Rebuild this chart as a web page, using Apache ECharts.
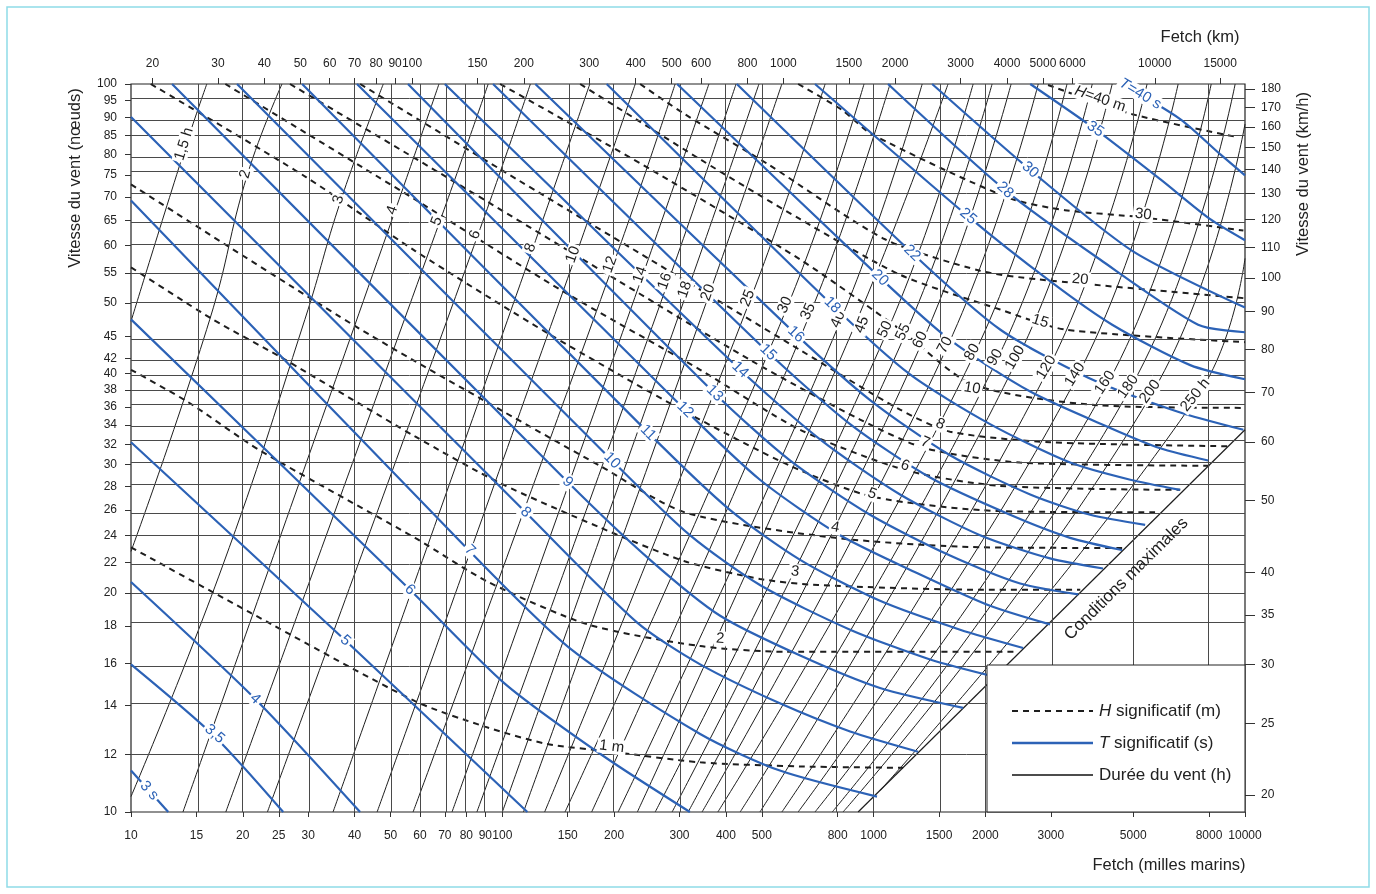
<!DOCTYPE html>
<html lang="fr">
<head>
<meta charset="utf-8">
<title>Abaque de prévision de la houle</title>
<script src="https://cdn.jsdelivr.net/npm/echarts@6.0.0/dist/echarts.min.js"></script>
<style>
  html, body { margin: 0; padding: 0; background: #fff; }
  #chart { width: 1376px; height: 894px; }
</style>
</head>
<body>
<div id="chart"></div>
<script>
// ---- axes (fetch in nautical miles, wind in knots) ----
const fetchNmTicks = [10, 15, 20, 25, 30, 40, 50, 60, 70, 80, 90, 100, 150, 200, 300, 400, 500, 800, 1000, 1500, 2000, 3000, 5000, 8000, 10000];
const fetchKmTicks = [20, 30, 40, 50, 60, 70, 80, 90, 100, 150, 200, 300, 400, 500, 600, 800, 1000, 1500, 2000, 3000, 4000, 5000, 6000, 10000, 15000];
const windKnTicks = [10, 12, 14, 16, 18, 20, 22, 24, 26, 28, 30, 32, 34, 36, 38, 40, 42, 45, 50, 55, 60, 65, 70, 75, 80, 85, 90, 95, 100];
const windKmhTicks = [20, 25, 30, 35, 40, 50, 60, 70, 80, 90, 100, 110, 120, 130, 140, 150, 160, 170, 180];
// the printed km and km/h scales sit slightly off the exact 1.852 ratio
const kmRange = [17.5, 17500];
const kmhRange = [18.97, 182.8];

// ---- wind duration lines (h): [fetch nm, wind kn] ----
const durationNames = ['1,5 h', '2', '3', '4', '5', '6', '8', '10', '12', '14', '16', '18', '20', '25', '30', '35', '40', '45', '50', '55', '60', '70', '80', '90', '100', '120', '140', '160', '180', '200', '250 h'];
const durationCurves = [
  [[16.0, 100], [14.1, 82.7], [10, 47.2]],
  [[25.5, 100], [20.6, 75.2], [16.3, 47.5], [10, 22.8]],
  [[47.8, 100], [36.8, 69.4], [29.4, 47.5], [17.6, 21.7], [10, 10.5]],
  [[67.5, 100], [51.5, 67.1], [13.8, 10]],
  [[91.6, 100], [67.9, 64.8], [18.0, 10]],
  [[119, 100], [86.0, 62.1], [23.3, 10]],
  [[172, 100], [121, 59.6], [35.0, 10]],
  [[228, 100], [158, 58.3], [46.0, 10]],
  [[292, 100], [199, 56.5], [57.5, 10]],
  [[360, 100], [239, 54.7], [73.2, 10]],
  [[426, 100], [280, 53.6], [85.4, 10]],
  [[491, 100], [316, 52.2], [100, 10]],
  [[566, 100], [362, 51.7], [114, 10]],
  [[740, 100], [467, 50.8], [130, 10]],
  [[942, 100], [588, 49.7], [147.5, 10]],
  [[1107, 100], [678, 48.7], [174, 10]],
  [[1351, 100], [817, 47.5], [205, 10]],
  [[1586, 100], [891, 46.7], [231, 10]],
  [[1853, 100], [1093, 46.0], [258, 10]],
  [[2084, 100], [1223, 45.6], [286.5, 10]],
  [[2345, 100], [1359, 44.5], [316.5, 10]],
  [[2775, 100], [1586, 43.8], [345, 10]],
  [[3316, 100], [1876, 42.8], [380.5, 10]],
  [[3878, 100], [2163, 42.1], [437, 10]],
  [[4389, 100], [2449, 42.1], [494, 10]],
  [[5448, 100], [2967, 40.8], [566, 10]],
  [[6607, 100], [3555, 39.9], [626, 10]],
  [[8110, 100], [4282, 38.9], [695, 10]],
  [[9408, 100], [4940, 38.4], [773.5, 10]],
  [[10000, 88.1], [5654, 37.8], [827, 10]],
  [[10000, 57.6], [7477, 37.4], [1040, 10.7]]
];
const durationLabelAt = [
  [13.9, 82.7], [20.3, 75.2], [36.2, 69.4], [50.5, 67.1], [66.6, 64.8], [84.4, 62.1], [119, 59.6], [155, 58.3],
  [195, 56.5], [235, 54.7], [274, 53.6], [310, 52.2], [358, 51.7], [458, 50.8], [577, 49.7], [666, 48.7],
  [802, 47.5], [930, 46.7], [1073, 46.0], [1200, 45.6], [1334, 44.5], [1557, 43.8], [1842, 42.8], [2123, 42.1],
  [2404, 42.1], [2917, 40.8], [3486, 39.9], [4198, 38.9], [4845, 38.4], [5550, 37.8], [7344, 37.4]
];

// ---- significant wave height (m) ----
const heightNames = ['1 m', '2', '3', '4', '5', '6', '7', '8', '10', '15', '20', '30', '{i|H}=40 m'];
const heightCurves = [
  [[10, 23.1], [20.9, 18.8], [58.2, 14.2], [89.8, 13.1], [132, 12.4], [197, 12.1], [341, 11.7], [634, 11.55], [1200, 11.5]],
  [[10, 40.5], [14.2, 36.6], [22.2, 31.4], [58.2, 23.8], [91.6, 20.7], [170, 18.1], [341, 16.9], [577, 16.6], [2449, 16.6]],
  [[10, 56.0], [16.6, 47.5], [25.2, 42.2], [58.2, 32.8], [98.6, 28.3], [183, 24.6], [310, 22.1], [494, 20.9], [708, 20.5], [1935, 20.2], [3600, 20.2]],
  [[10, 72.8], [39.6, 46.7], [98.6, 35.7], [183, 29.9], [310, 25.8], [788, 23.8], [1935, 23.1], [4668, 23.05]],
  [[11.3, 100], [29.6, 74.5], [58.2, 59.0], [134, 45.3], [310, 35.5], [595, 29.9], [996, 27.1], [2190, 25.9], [5725, 25.8]],
  [[17.95, 100], [58.2, 69.4], [143, 52.2], [341, 40.5], [634, 33.5], [1215, 29.5], [2190, 28.05], [6690, 27.7]],
  [[26.8, 100], [72.3, 74.0], [183, 55.6], [464, 41.8], [919, 34.6], [1376, 31.6], [2480, 30.2], [8060, 29.9]],
  [[41.4, 100], [98.6, 76.4], [250, 57.4], [634, 43.1], [1178, 35.7], [1606, 33.3], [2985, 32.2], [9007, 31.8]],
  [[98.6, 100], [250, 76.4], [634, 57.4], [1178, 46.0], [1842, 38.7], [4020, 36.2], [10000, 35.9]],
  [[162, 100], [341, 78.8], [634, 65.2], [1178, 54.7], [2190, 49.0], [3275, 46.0], [10000, 44.2]],
  [[235, 100], [310, 90.9], [519, 77.6], [1073, 61.2], [1935, 55.4], [2775, 53.9], [9900, 50.8]],
  [[626, 100], [822, 92.1], [990, 85.3], [2302, 69.8], [3275, 67.1], [5285, 65.6], [9900, 62.9]],
  [[2948, 99.7], [4971, 90.9], [9585, 84.5]]
];
const heightLabelAt = [
  [197, 12.3], [386, 17.3], [614, 21.4], [788, 24.6], [990, 27.35], [1215, 29.9], [1376, 32.2],
  [1510, 34.1], [1842, 38.2], [2810, 47.2], [3600, 53.9], [5319, 66.2], [4070, 95.4]
];

// ---- significant wave period (s) ----
const periodNames = ['3 s', '3,5', '4', '5', '6', '7', '8', '9', '10', '11', '12', '13', '14', '15', '16', '18', '20', '22', '25', '28', '30', '35', '{i|T}=40 s'];
const periodCurves = [
  [[10, 11.4], [12.6, 10]],
  [[10, 15.95], [16.8, 12.7], [25.7, 10]],
  [[10, 20.7], [21.6, 14.3], [41.4, 10]],
  [[10, 32.2], [37.8, 17.2], [116.8, 10]],
  [[10, 47.5], [56.4, 20.2], [101.7, 15.0], [188.8, 11.9], [320, 10]],
  [[10, 69.2], [81.8, 22.8], [153.9, 16.7], [341, 12.8], [559, 11.4], [1021, 10.5]],
  [[10, 90.1], [115.5, 25.8], [230.8, 18.2], [341, 15.95], [559, 14.1], [864, 12.9], [1317, 12.1]],
  [[12.9, 100], [150, 28.4], [250, 22.2], [386, 18.6], [634, 16.4], [1040, 14.8], [1741, 13.9]],
  [[19.3, 100], [197.4, 30.4], [320, 24.0], [494, 20.5], [864, 17.8], [1419, 16.2], [2163, 15.3]],
  [[28.9, 100], [247, 33.2], [410, 26.0], [634, 22.2], [1040, 19.5], [1709, 17.8], [2527, 16.8]],
  [[40.6, 100], [310.5, 35.7], [494, 28.6], [812, 24.0], [1334, 21.2], [2058, 19.2], [2985, 18.1]],
  [[55.7, 100], [373, 37.6], [595, 30.4], [978, 25.6], [1606, 22.5], [2480, 20.6], [3555, 19.9]],
  [[70.0, 100], [437, 40.5], [717, 32.5], [1178, 27.3], [1935, 24.0], [2985, 22.3], [4146, 21.6]],
  [[94.4, 100], [519.5, 42.8], [864, 34.1], [1419, 28.8], [2330, 25.6], [3380, 23.8], [4668, 22.9]],
  [[122.7, 100], [617.6, 45.3], [978, 36.8], [1606, 30.9], [2640, 27.3], [3830, 25.6], [5384, 24.8]],
  [[191, 100], [773.5, 49.7], [1253, 39.9], [2058, 34.1], [3380, 30.2], [4910, 28.6], [6690, 27.7]],
  [[295.6, 100], [1040, 54.2], [1606, 44.5], [2640, 37.8], [4335, 33.7], [5910, 31.6], [7956, 30.4]],
  [[428, 100], [1269, 58.6], [2190, 46.0], [3783, 39.5], [6567, 35.5], [9900, 33.5]],
  [[695, 100], [1796, 65.8], [2985, 53.6], [4389, 46.7], [7120, 41.1], [10000, 39.3]],
  [[1093, 100], [2259, 71.5], [4070, 57.4], [7477, 46.7], [10000, 45.6]],
  [[1437, 100], [2640, 76.2], [4971, 59.0], [10000, 49.3]],
  [[2640, 100], [3951, 86.7], [5910, 74.0], [8060, 65.2], [10000, 61.0]],
  [[4668, 100], [6690, 89.5], [8570, 80.1], [10000, 74.9]]
];
const periodLabelAt = [
  [11.2, 10.7], [16.8, 12.8], [21.6, 14.3], [37.8, 17.2], [56.4, 20.2], [81.8, 22.9], [115.5, 25.8], [150, 28.4],
  [197.4, 30.4], [247, 33.2], [310.5, 35.7], [373, 37.6], [437, 40.5], [519.5, 42.8], [617.6, 45.3], [773.5, 49.7],
  [1040, 54.2], [1269, 58.6], [1796, 65.8], [2259, 71.5], [2640, 76.2], [3951, 86.7], [5220, 96.9]
];

// ---- fully developed sea limit ----
const maxConditions = [[908, 10], [10000, 33.5]];
const maxConditionsLabelAt = [4790, 20.9];

// -------------------------------------------------------------
const FONT = 'Liberation Sans';
const BLUE = '#2c62b6';
const INK = '#1e1e1e';
const lg = Math.log10;
const toLog = (pts) => pts.map(([f, v]) => [lg(f), lg(v)]);
const tickText = (v) => String(Math.round(Math.pow(10, v)));

const chart = echarts.init(document.getElementById('chart'), null, { renderer: 'canvas' });

function axis(ticks, range, position, tickLen, margin) {
  return {
    type: 'value', min: lg(range[0]), max: lg(range[1]), position,
    splitLine: { show: false },
    axisLine: { show: false },
    axisTick: { show: true, customValues: ticks.map(lg), length: tickLen, lineStyle: { color: '#333' } },
    axisLabel: { customValues: ticks.map(lg), formatter: tickText, color: '#222', fontSize: 12, fontFamily: FONT, margin }
  };
}

function curveSeries(name, curves, lineStyle, z, smooth) {
  return curves.map((c) => ({
    name, type: 'line', xAxisIndex: 0, yAxisIndex: 0, data: toLog(c),
    symbol: 'none', showSymbol: false, smooth,
    lineStyle, z, silent: true, animation: false
  }));
}

const gridLines = {
  type: 'line', xAxisIndex: 0, yAxisIndex: 0, data: [], silent: true, z: 1, animation: false,
  markLine: {
    symbol: 'none', silent: true, animation: false, label: { show: false },
    lineStyle: { color: '#4a4a4a', width: 1, type: 'solid' },
    data: fetchNmTicks.slice(1, -1).map((v) => ({ xAxis: lg(v) }))
      .concat(windKnTicks.slice(1, -1).map((v) => ({ yAxis: lg(v) })))
  }
};

const legendFont = '17px ' + FONT;
const italic = { i: { fontStyle: 'italic', fontSize: 17, fontFamily: FONT, fill: '#222' } };
const legendGraphics = [
  { type: 'rect', z: 15, shape: { x: 987, y: 665, width: 258, height: 147 }, style: { fill: '#fff', stroke: '#222', lineWidth: 1 } },
  { type: 'line', z: 16, shape: { x1: 1012, y1: 711, x2: 1093, y2: 711 }, style: { stroke: INK, lineWidth: 2, lineDash: [6, 5] } },
  { type: 'line', z: 16, shape: { x1: 1012, y1: 743, x2: 1093, y2: 743 }, style: { stroke: BLUE, lineWidth: 2.5 } },
  { type: 'line', z: 16, shape: { x1: 1012, y1: 775, x2: 1093, y2: 775 }, style: { stroke: '#111', lineWidth: 1.3 } },
  { type: 'text', z: 16, x: 1099, y: 711, style: { text: '{i|H} significatif (m)', font: legendFont, fill: '#222', verticalAlign: 'middle', rich: italic } },
  { type: 'text', z: 16, x: 1099, y: 743, style: { text: '{i|T} significatif (s)', font: legendFont, fill: '#222', verticalAlign: 'middle', rich: italic } },
  { type: 'text', z: 16, x: 1099, y: 775, style: { text: 'Durée du vent (h)', font: legendFont, fill: '#222', verticalAlign: 'middle' } }
];

const nameFont = '16.5px ' + FONT;
const axisNames = [
  { type: 'text', x: 1200, y: 37, style: { text: 'Fetch (km)', font: nameFont, fill: '#222', align: 'center', verticalAlign: 'middle' } },
  { type: 'text', x: 1169, y: 865, style: { text: 'Fetch (milles marins)', font: nameFont, fill: '#222', align: 'center', verticalAlign: 'middle' } },
  { type: 'text', x: 75, y: 178, rotation: Math.PI / 2, style: { text: 'Vitesse du vent (nœuds)', font: nameFont, fill: '#222', align: 'center', verticalAlign: 'middle' } },
  { type: 'text', x: 1303, y: 174, rotation: Math.PI / 2, style: { text: 'Vitesse du vent (km/h)', font: nameFont, fill: '#222', align: 'center', verticalAlign: 'middle' } }
];

chart.setOption({
  animation: false,
  textStyle: { fontFamily: FONT },
  grid: { left: 131, top: 84, width: 1114, height: 728, show: true, borderColor: '#222', borderWidth: 1.2, backgroundColor: 'transparent' },
  xAxis: [
    axis(fetchNmTicks, [10, 10000], 'bottom', 5, 18),
    axis(fetchKmTicks, kmRange, 'top', 6, 14)
  ],
  yAxis: [
    axis(windKnTicks, [10, 100], 'left', 6, 14),
    axis(windKmhTicks, kmhRange, 'right', 10, 16)
  ],
  graphic: legendGraphics.concat(axisNames, [
    { type: 'rect', z: 0, shape: { x: 7, y: 7, width: 1362, height: 880 }, style: { fill: 'none', stroke: '#8fdbe8', lineWidth: 1.5 } }
  ]),
  series: [gridLines]
    .concat(curveSeries('Durée du vent (h)', durationCurves, { color: INK, width: 1, type: 'solid' }, 3, 0.45))
    .concat([{
      name: 'Conditions maximales', type: 'line', xAxisIndex: 0, yAxisIndex: 0, data: toLog(maxConditions), symbol: 'none',
      lineStyle: { color: INK, width: 1.2 }, z: 3, silent: true, animation: false
    }])
    .concat(curveSeries('H significatif (m)', heightCurves, { color: INK, width: 2, type: [6, 5] }, 4, 0.25))
    .concat(curveSeries('T significatif (s)', periodCurves, { color: BLUE, width: 2.2, type: 'solid' }, 5, 0.25))
});

// ---- labels along the curves, rotated to follow them ----
const toPx = (p) => chart.convertToPixel({ xAxisIndex: 0, yAxisIndex: 0 }, p);
function segDist(q, a, b) {
  const dx = b[0] - a[0], dy = b[1] - a[1];
  const L = dx * dx + dy * dy || 1;
  let t = ((q[0] - a[0]) * dx + (q[1] - a[1]) * dy) / L;
  t = Math.max(0, Math.min(1, t));
  return Math.hypot(q[0] - a[0] - t * dx, q[1] - a[1] - t * dy);
}
function angleAt(curve, at) {
  const pts = toLog(curve).map(toPx);
  const q = toPx(toLog([at])[0]);
  let best = 0, bestD = Infinity;
  for (let i = 0; i < pts.length - 1; i++) {
    const d = segDist(q, pts[i], pts[i + 1]);
    if (d < bestD) { bestD = d; best = i; }
  }
  const a = pts[best], b = pts[best + 1];
  let ang = Math.atan2(a[1] - b[1], b[0] - a[0]) * 180 / Math.PI;
  if (ang > 90) ang -= 180;
  if (ang < -90) ang += 180;
  return ang;
}
function labelSeries(names, at, curves, color, withBg, size) {
  return {
    type: 'scatter', xAxisIndex: 0, yAxisIndex: 0, symbolSize: 0, silent: true, z: 8, animation: false,
    itemStyle: { color, opacity: 1 },
    data: names.map((n, i) => ({
      value: toLog([at[i]])[0],
      label: { formatter: n, rotate: angleAt(curves[i], at[i]) }
    })),
    label: {
      show: true, position: 'inside', color, opacity: 1, fontSize: size, fontFamily: FONT,
      textBorderWidth: 0, textBorderColor: 'transparent', textShadowBlur: 0,
      backgroundColor: withBg ? '#fff' : 'transparent', padding: [0, 2],
      rich: { i: { fontStyle: 'italic', fontSize: size, color, fontFamily: FONT, textBorderWidth: 0 } }
    }
  };
}

const base = chart.getOption().series.length;
chart.setOption({
  series: new Array(base).fill({}).concat([
    labelSeries(durationNames, durationLabelAt, durationCurves, INK, true, 15),
    labelSeries(heightNames, heightLabelAt, heightCurves, INK, true, 15),
    labelSeries(periodNames, periodLabelAt, periodCurves, BLUE, true, 15),
    labelSeries(['Conditions maximales'], [maxConditionsLabelAt], [maxConditions], INK, false, 17)
  ])
});
</script>
</body>
</html>
